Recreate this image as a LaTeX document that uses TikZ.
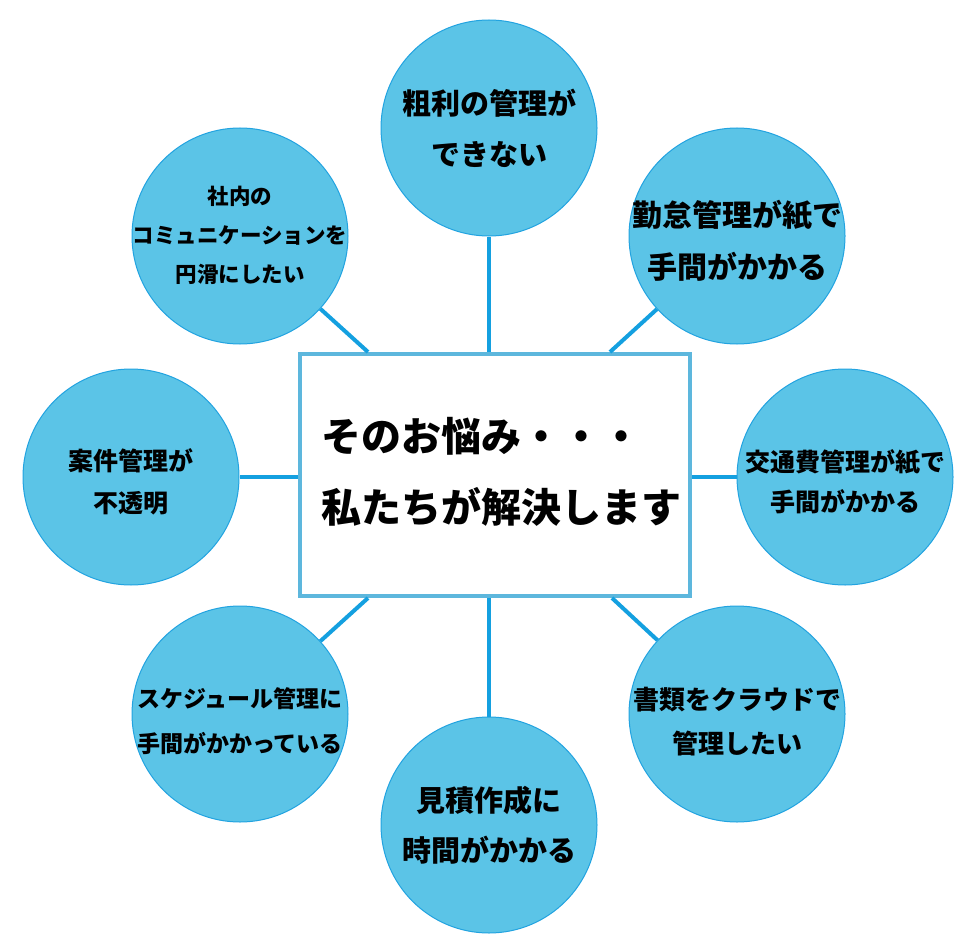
\documentclass[tikz,border=0pt]{standalone}
\usepackage{fontspec}
\setmainfont{Noto Sans CJK JP}
\definecolor{bubblefill}{HTML}{5BC4E7}
\definecolor{bubbleline}{HTML}{22A3E0}
\definecolor{linkblue}{HTML}{14A0E0}
\definecolor{boxblue}{HTML}{5DB7DD}
\newcommand{\fsz}[2]{\fontsize{#1}{#2}\selectfont\bfseries}
\tikzset{
  bubble/.style={circle, fill=bubblefill, draw=bubbleline, line width=1pt,
    minimum size=216pt, inner sep=0pt},
  bubbletext/.style={align=center, text=black, inner sep=0pt},
  link/.style={draw=linkblue, line width=4pt},
  mainbox/.style={draw=boxblue, line width=4pt, fill=white,
    minimum width=390pt, minimum height=242pt, inner sep=0pt}
}
\begin{document}
\begin{tikzpicture}[x=1pt, y=-1pt]
\useasboundingbox (0,0) rectangle (979,952);
% centre box
\node[mainbox] (box) at (495,475) {};
\node[anchor=west, align=left, font=\fsz{40}{71}] (msg) at (318,472)
  {そのお悩み・・・\\私たちが解決します};
% bubbles
\node[bubble] (top) at (489,128) {};
\node[bubble] (tr) at (737,236) {};
\node[bubble] (rt) at (845,477) {};
\node[bubble] (br) at (737,714) {};
\node[bubble] (bot) at (489,825) {};
\node[bubble] (bl) at (240,714) {};
\node[bubble] (lf) at (131,477) {};
\node[bubble] (tl) at (240,236) {};
% bubble texts (yshift is in page direction: negative moves down)
\node[bubbletext, font=\fsz{29}{51}] (toptext) at (top) {粗利の管理が\\できない};
\node[bubbletext, font=\fsz{30}{52}] (trtext) at ([yshift=-5pt]tr) {勤怠管理が紙で\\手間がかかる};
\node[bubbletext, font=\fsz{25}{40}] (rttext) at ([yshift=-5pt]rt) {交通費管理が紙で\\手間がかかる};
\node[bubbletext, font=\fsz{26}{44}] (brtext) at ([yshift=-8pt]br) {書類をクラウドで\\管理したい};
\node[bubbletext, font=\fsz{29}{50}] (bottext) at (bot) {見積作成に\\時間がかかる};
\node[bubbletext, font=\fsz{23}{45}] (bltext) at ([yshift=-7pt]bl) {スケジュール管理に\\手間がかかっている};
\node[bubbletext, font=\fsz{25}{42}] (lftext) at ([yshift=-5pt]lf) {案件管理が\\不透明};
\node[bubbletext, font=\fsz{21.5}{39}] (tltext) at ([yshift=1pt]tl) {社内の\\コミュニケーションを\\円滑にしたい};
% connectors
\draw[link] (top) -- (top |- box.north);
\draw[link] (bot) -- (bot |- box.south);
\draw[link] (lf) -- (lf -| box.west);
\draw[link] (rt) -- (rt -| box.east);
\draw[link] (tr) -- (box.north -| 610,0);
\draw[link] (tl) -- (box.north -| 368,0);
\draw[link] (br) -- (box.south -| 612,0);
\draw[link] (bl) -- (box.south -| 368,0);
\end{tikzpicture}
\end{document}
